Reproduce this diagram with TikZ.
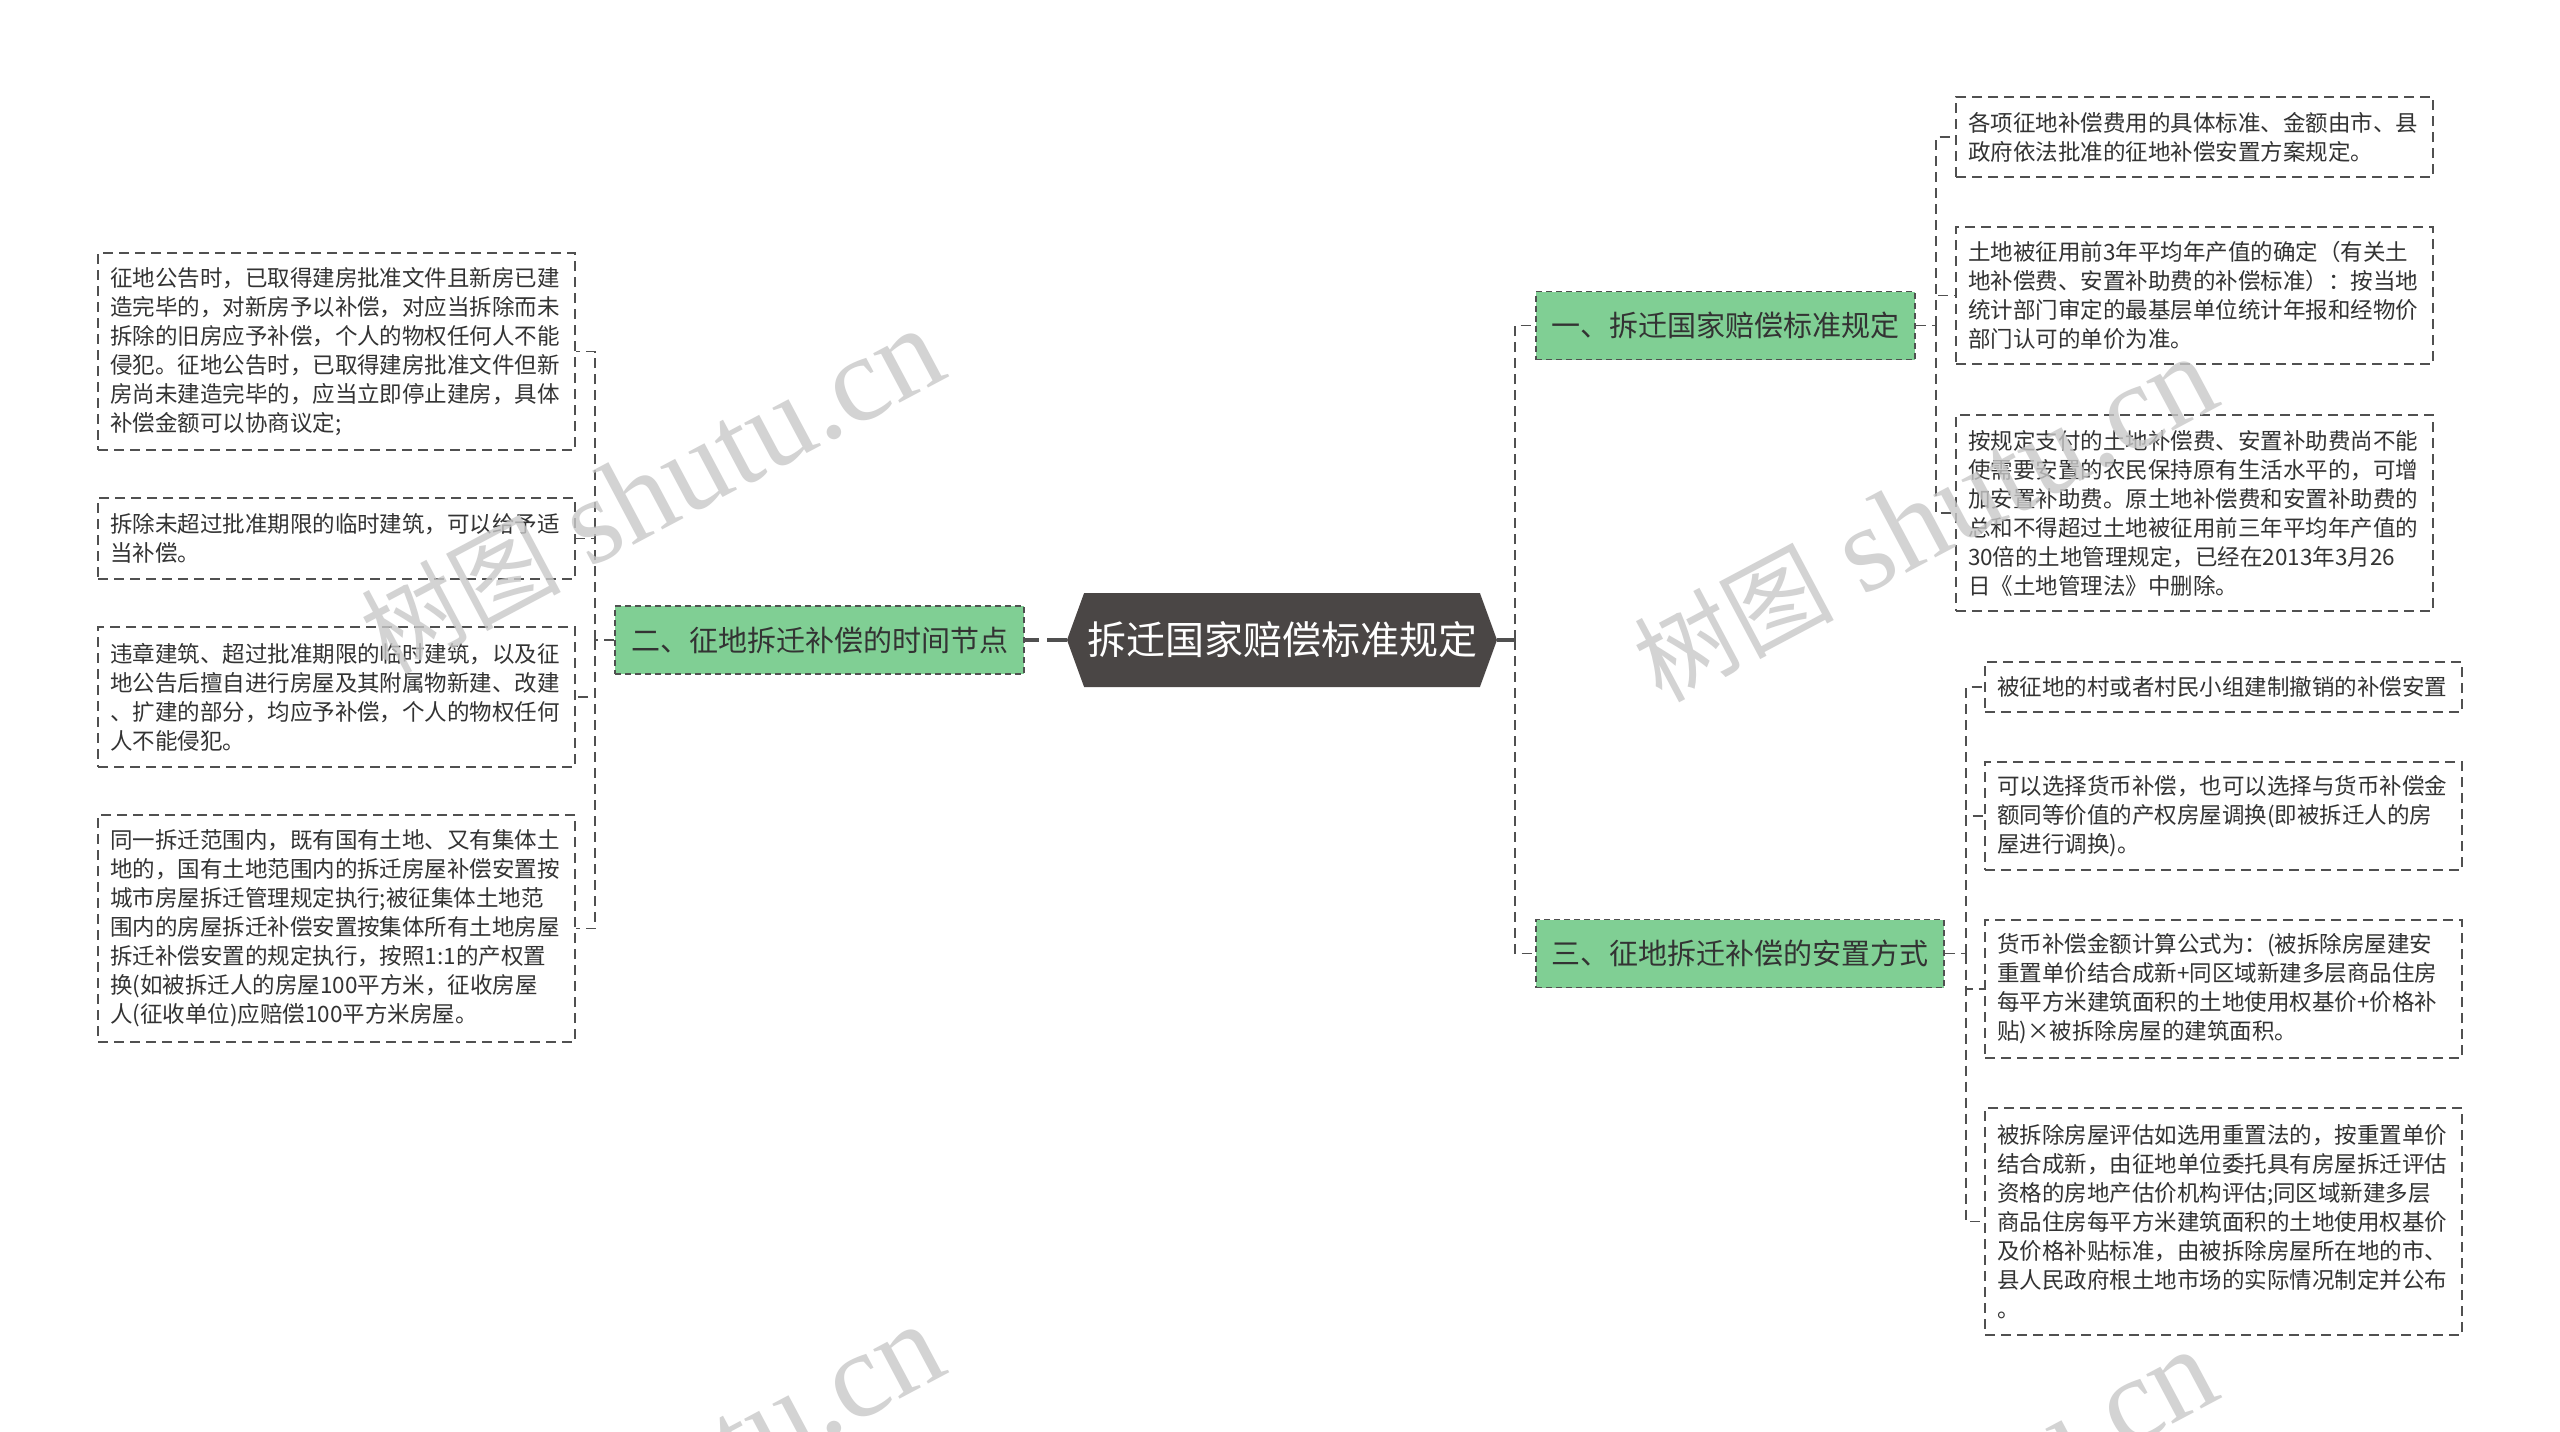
\documentclass[tikz,border=0pt]{standalone}
\usepackage{fontspec}
\setmainfont{Noto Sans CJK SC}
\newfontfamily\wmserif{Liberation Serif}
\usetikzlibrary{shapes.symbols}
\definecolor{cdark}{RGB}{74,70,69}
\definecolor{cgreen}{RGB}{128,207,148}
\definecolor{cline}{RGB}{80,80,80}
\definecolor{ctext}{RGB}{51,51,51}
\definecolor{cwm}{RGB}{200,200,200}
\newcommand{\wmtext}{{\fontsize{100pt}{100pt}\selectfont 树图}\hspace{28pt}{\wmserif\fontsize{122pt}{122pt}\selectfont shutu.cn}}
\begin{document}
\begin{tikzpicture}[x=1pt,y=-1pt,
  leaf/.style={draw=cline, dash pattern=on 10pt off 6pt, line width=1.6pt, fill=white,
    text=ctext, font=\fontsize{22.5pt}{29pt}\selectfont, align=left, text width=453pt,
    inner xsep=12pt, inner ysep=0pt, minimum height=#1},
  branch/.style={draw=cline, dash pattern=on 6pt off 4pt, line width=1.6pt, fill=cgreen,
    text=ctext, font=\fontsize{29pt}{34pt}\selectfont, inner sep=0pt,
    minimum height=68pt, minimum width=#1},
  central/.style={signal, signal to=east and west, signal pointer angle=140,
    fill=cdark, text=white, font=\fontsize{39pt}{44pt}\selectfont, inner sep=0pt,
    minimum width=430pt, minimum height=94pt},
  link/.style={draw=cline, line width=1.6pt, dash pattern=on 10pt off 6pt},
  mainlink/.style={draw=cline, line width=4pt, dash pattern=on 20pt off 8pt},
  wm/.style={text=cwm, text opacity=0.8, inner sep=0pt, rotate=28}
]
\useasboundingbox[fill=white] (0,0) rectangle (2560,1432);

% central
\node[central] (C) at (1282,640) {拆迁国家赔偿标准规定};

% branches
\node[branch=409pt] (B2) at (819.5,640) {二、征地拆迁补偿的时间节点};
\node[branch=379pt] (B1) at (1725.5,325.5) {一、拆迁国家赔偿标准规定};
\node[branch=408pt] (B3) at (1740,953.5) {三、征地拆迁补偿的安置方式};

% left leaves
\node[leaf=197pt] (L1) at (336.5,351.5) {征地公告时，已取得建房批准文件且新房已建\\造完毕的，对新房予以补偿，对应当拆除而未\\拆除的旧房应予补偿，个人的物权任何人不能\\侵犯。征地公告时，已取得建房批准文件但新\\房尚未建造完毕的，应当立即停止建房，具体\\补偿金额可以协商议定;};
\node[leaf=81pt] (L2) at (336.5,538.5) {拆除未超过批准期限的临时建筑，可以给予适\\当补偿。};
\node[leaf=140pt] (L3) at (336.5,697) {违章建筑、超过批准期限的临时建筑，以及征\\地公告后擅自进行房屋及其附属物新建、改建\\、扩建的部分，均应予补偿，个人的物权任何\\人不能侵犯。};
\node[leaf=227pt] (L4) at (336.5,928.5) {同一拆迁范围内，既有国有土地、又有集体土\\地的，国有土地范围内的拆迁房屋补偿安置按\\城市房屋拆迁管理规定执行;被征集体土地范\\围内的房屋拆迁补偿安置按集体所有土地房屋\\拆迁补偿安置的规定执行，按照1:1的产权置\\换(如被拆迁人的房屋100平方米，征收房屋\\人(征收单位)应赔偿100平方米房屋。};

% right leaves of B1
\node[leaf=80pt] (R1) at (2194.5,137) {各项征地补偿费用的具体标准、金额由市、县\\政府依法批准的征地补偿安置方案规定。};
\node[leaf=137pt] (R2) at (2194.5,295.5) {土地被征用前3年平均年产值的确定（有关土\\地补偿费、安置补助费的补偿标准）：按当地\\统计部门审定的最基层单位统计年报和经物价\\部门认可的单价为准。};
\node[leaf=196pt] (R3) at (2194.5,513) {按规定支付的土地补偿费、安置补助费尚不能\\使需要安置的农民保持原有生活水平的，可增\\加安置补助费。原土地补偿费和安置补助费的\\总和不得超过土地被征用前三年平均年产值的\\30倍的土地管理规定，已经在2013年3月26\\日《土地管理法》中删除。};

% right leaves of B3
\node[leaf=50pt] (S1) at (2223.5,687) {被征地的村或者村民小组建制撤销的补偿安置};
\node[leaf=108pt] (S2) at (2223.5,816) {可以选择货币补偿，也可以选择与货币补偿金\\额同等价值的产权房屋调换(即被拆迁人的房\\屋进行调换)。};
\node[leaf=138pt] (S3) at (2223.5,989) {货币补偿金额计算公式为：(被拆除房屋建安\\重置单价结合成新+同区域新建多层商品住房\\每平方米建筑面积的土地使用权基价+价格补\\贴)×被拆除房屋的建筑面积。};
\node[leaf=227pt] (S4) at (2223.5,1221.5) {被拆除房屋评估如选用重置法的，按重置单价\\结合成新，由征地单位委托具有房屋拆迁评估\\资格的房地产估价机构评估;同区域新建多层\\商品住房每平方米建筑面积的土地使用权基价\\及价格补贴标准，由被拆除房屋所在地的市、\\县人民政府根土地市场的实际情况制定并公布\\。};

% junctions
\coordinate (jL) at (595,640);
\coordinate (jR) at (1515,640);
\coordinate (j1) at (1936,325.5);
\coordinate (j3) at (1966,953.5);

% connectors
\draw[mainlink] (C.west) -- (B2.east);
\draw[mainlink] (C.east) -- (jR);
\draw[link] (jR) |- (B1.west);
\draw[link] (jR) |- (B3.west);
\draw[link] (B2.west) -- (jL);
\draw[link] (jL) |- (L1.east);
\draw[link] (jL) |- (L2.east);
\draw[link] (jL) |- (L3.east);
\draw[link] (jL) |- (L4.east);
\draw[link] (B1.east) -- (j1);
\draw[link] (j1) |- (R1.west);
\draw[link] (j1) |- (R2.west);
\draw[link] (j1) |- (R3.west);
\draw[link] (B3.east) -- (j3);
\draw[link] (j3) |- (S1.west);
\draw[link] (j3) |- (S2.west);
\draw[link] (j3) |- (S3.west);
\draw[link] (j3) |- (S4.west);

% watermarks
\node[wm] (wm1) at (652,492) {\wmtext};
\node[wm] (wm2) at (1925,520) {\wmtext};
\node[wm] (wm3) at (652,1488) {\wmtext};
\node[wm] (wm4) at (1925,1513) {\wmtext};
\end{tikzpicture}
\end{document}
